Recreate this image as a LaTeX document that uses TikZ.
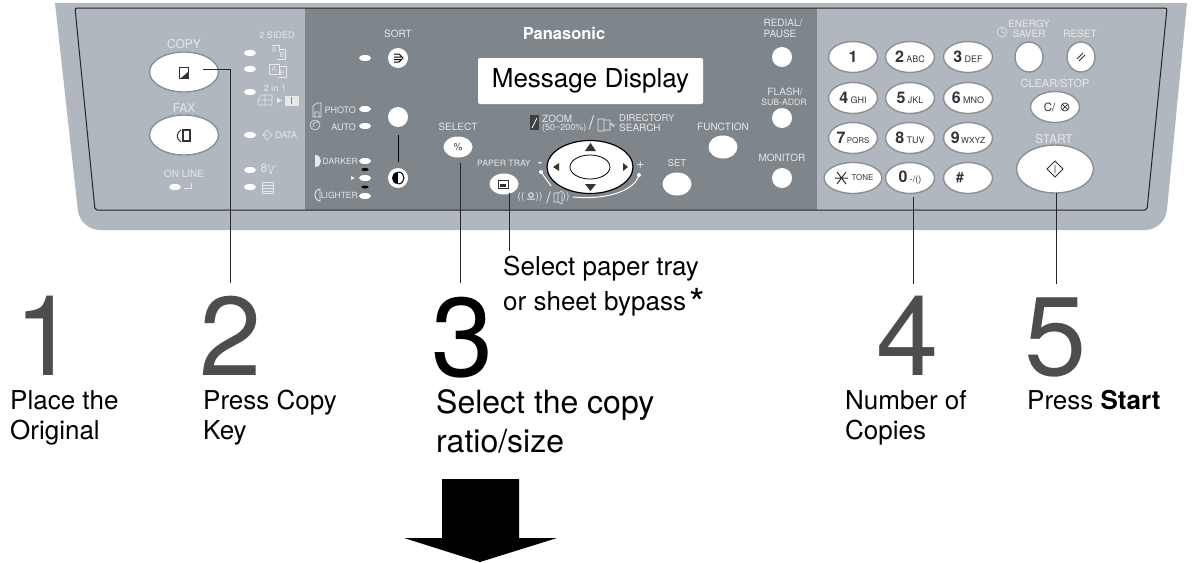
\documentclass[tikz,border=0pt]{standalone}
\usepackage{fontspec}
\setmainfont{TeX Gyre Heros}
\usetikzlibrary{shapes.geometric}
\definecolor{bodygray}{HTML}{B1B7BE}
\definecolor{centergray}{HTML}{7F868B}
\definecolor{ringgray}{HTML}{8A9096}
\definecolor{legendwhite}{HTML}{E6E8EA}
\definecolor{stepgray}{HTML}{4D4D4D}
\definecolor{keydark}{HTML}{333333}
\newcommand{\px}[1]{\fontsize{#1}{#1}\selectfont}
\newcommand{\keynum}[1]{\textbf{\px{16}#1}}
\begin{document}
\begin{tikzpicture}[x=1pt,y=-1pt]
      \tikzstyle{legend} = [text=legendwhite, inner sep=0pt, align=center]
      \tikzstyle{led} = [ellipse, fill=white, inner sep=0pt, minimum width=12pt, minimum height=6pt]
      \tikzstyle{blackled} = [ellipse, fill=black, inner sep=0pt, minimum width=7pt, minimum height=3pt]
      \tikzstyle{flatbtn} = [ellipse, fill=white, inner sep=0pt, text=keydark]
      \tikzstyle{ringbtn} = [ellipse, fill=white, draw=ringgray, line width=1.4pt, inner sep=0pt, text=keydark]
      \tikzstyle{keybtn} = [ringbtn, minimum width=49pt, minimum height=31pt, font=\px{9}]
      \tikzstyle{stepnum} = [inner sep=0pt, font=\px{112}, text=stepgray]
      \tikzstyle{steptext} = [inner sep=0pt, align=left, font=\px{26}, text=black]
      \tikzstyle{lead} = [line width=1pt, draw=black!85]
      \tikzstyle{icon} = [draw=legendwhite, line width=0.6pt]
      \useasboundingbox (0,0) rectangle (1193,562);
      \fill[white] (0,0) rectangle (1193,562);

      % machine body
      \fill[bodygray] (55,3) -- (1187,3) [rounded corners=20pt] -- (1165,230) -- (80,230) [sharp corners] -- cycle;
      \fill[centergray] (305,8) rectangle (817,210);
      \draw[black!85, line width=1pt, rounded corners=2pt] (75,8) -- (1167,8) -- (1147,210) -- (95,210) -- cycle;

      % left part
      \node[legend, font=\px{12}] (copytxt) at (184,44) {COPY};
      \node[ringbtn, minimum width=69pt, minimum height=40pt] (copybtn) at (184,72) {};
      \node[legend, font=\px{12}] (faxtxt) at (184,108) {FAX};
      \node[ringbtn, minimum width=69pt, minimum height=40pt] (faxbtn) at (184,135) {};
      \node[legend, font=\px{10}] (onlinetxt) at (184,174) {ON LINE};
      \node[led] (onlineled) at (175,187) {};
      \draw[icon, line width=0.9pt] (191,183) -- (191,188) -- (184,188);
      \draw[keydark, line width=1pt, fill=white] (179,67) rectangle (188,78);
      \fill[keydark] (188,72) -- (188,78) -- (181,78) -- cycle;
      \draw[keydark, line width=1.2pt, fill=white] (183,130) rectangle (190,141);
      \draw[keydark, line width=1pt] (181,130) .. controls (176,133) and (176,139) .. (181,142);

      \node[legend, font=\px{9}] (sidedtxt) at (277,35) {2 SIDED};
      \node[led] (ledone) at (250,53) {};
      \node[led] (ledtwo) at (250,69) {};
      \node[led] (ledthree) at (250,92) {};
      \node[legend, font=\px{9}] (twoinone) at (275,88) {2 in 1};
      \node[led] (leddata) at (250,135) {};
      \node[legend, font=\px{9}, anchor=west] (datatxt) at (275,135) {DATA};
      \node[led] (ledmemo) at (250,170) {};
      \node[led] (ledstack) at (250,187) {};
      \node[legend, font=\px{7}] (sidea) at (274,50) {A};
      \node[legend, font=\px{7}] (sideb) at (282,55) {B};
      \draw[icon] (272,45) -- (279,45) -- (279,52) (277,59) -- (285,59) -- (285,49) -- (280,49);
      \node[legend, font=\px{7}] (sidec) at (274,69) {A};
      \node[legend, font=\px{7}] (sided) at (282,73) {B};
      \draw[icon] (269,64) rectangle (279,74) (279,66) -- (286,66) -- (286,77) -- (278,77);
      \draw[icon] (258,99) -- (262,95) -- (272,95) -- (272,105) -- (258,105) -- cycle (265,95) -- (265,105) (258,100) -- (272,100);
      \fill[legendwhite] (277,98) -- (282,100.5) -- (277,103) -- cycle;
      \draw[icon, fill=legendwhite] (285,96) rectangle (298,105);
      \draw[centergray, line width=0.7pt] (291.5,97) -- (291.5,104);
      \draw[icon] (262,135) -- (267,135) (267,130) -- (272,135) -- (267,140) -- (263,135) -- cycle;
      \node[legend, font=\px{12}] (eightmark) at (264,168) {8};
      \draw[icon] (268,164) -- (271,174) -- (273,166) -- (276,166);
      \draw[icon] (262,182) rectangle (273,193) (262,185) -- (273,185) (262,188) -- (273,188) (262,191) -- (273,191);

      % center part
      \node[legend, font=\px{10}] (sorttxt) at (398,34) {SORT};
      \node[led] (ledsort) at (365,58) {};
      \node[flatbtn, minimum size=20pt] (sortbtn) at (398,58) {};
      \draw[black, line width=1pt] (394,54) -- (399,54) -- (403,58) -- (399,62) -- (394,62) (394,57) -- (401,57) (394,59.5) -- (401,59.5);
      \node[legend, font=\px{9}, anchor=east] (phototxt) at (356,110) {PHOTO};
      \node[led] (ledphoto) at (365,109) {};
      \node[legend, font=\px{9}, anchor=east] (autotxt) at (356,127) {AUTO};
      \node[led] (ledauto) at (365,126) {};
      \draw[icon] (313,106) -- (317,103) -- (321,103) -- (321,117) -- (313,117) -- cycle (315,117) -- (315,112) -- (319,112) -- (319,117);
      \draw[icon] (315,125) circle (5pt) (313,127) .. controls (313,122) and (316,121) .. (318,122);
      \node[flatbtn, minimum size=20pt] (densebtn) at (398,117) {};
      \node[flatbtn, minimum size=20pt] (contrastbtn) at (398,178) {};
      \draw[black, line width=1pt] (densebtn) ++(0,18) -- ++(0,27);
      \draw[black, line width=1pt] (398,172) .. controls (406,172) and (406,184) .. (398,184);
      \fill[black] (398,172) .. controls (390,172) and (390,184) .. (398,184) -- cycle;
      \node[legend, font=\px{8.5}, anchor=east] (darktxt) at (358,161) {DARKER};
      \node[led] (leddark) at (365,161) {};
      \node[blackled] (dotone) at (365,169.5) {};
      \node[led] (ledmid) at (365,178) {};
      \node[blackled] (dottwo) at (365,187) {};
      \node[led] (ledlight) at (365,196) {};
      \node[legend, font=\px{8.5}, anchor=east] (lighttxt) at (358,195) {LIGHTER};
      \fill[legendwhite] (315,155) .. controls (323,155) and (323,167) .. (315,167) -- cycle;
      \fill[legendwhite] (351,176) -- (355,178) -- (351,180) -- cycle;
      \draw[icon, line width=0.9pt] (320,189) .. controls (313,190) and (313,200) .. (320,201) -- cycle;
      \node[legend, font=\px{10}] (selecttxt) at (458,127) {SELECT};
      \node[flatbtn, minimum width=29pt, minimum height=21pt, font=\px{10}] (selectbtn) at (458,147) {\%};
      \node[legend, font=\px{8.7}] (traytxt) at (504,163) {PAPER TRAY};
      \node[flatbtn, minimum width=29pt, minimum height=21pt] (traybtn) at (504,184) {};
      \draw[keydark, line width=1pt] (498,180) rectangle (508,188);
      \fill[keydark] (500,184) rectangle (506,186.5);

      \node[font=\bfseries\px{16.5}, text=white, inner sep=0pt] (brand) at (564,33) {Panasonic};
      \node[fill=white, rounded corners=2pt, minimum width=225pt, minimum height=46pt, inner sep=0pt, font=\px{26}] (display) at (590.5,81) {Message Display};

      \fill[black!75] (530,115) rectangle (539,130);
      \draw[white, line width=0.7pt] (532,128) -- (537,118);
      \node[legend, font=\px{10}, anchor=west] (zoomtxt) at (542,119) {ZOOM};
      \node[legend, font=\px{9}, anchor=west] (zoomrange) at (542,128.5) {(50\textasciitilde200\%)};
      \node[legend, font=\px{19}] (slash) at (591.5,123) {/};
      \draw[icon] (598,119) rectangle (604,131) (604,120) -- (610,120) -- (610,130) -- (604,130) (610,125) -- (615,125) (611,123) -- (614,127);
      \node[legend, font=\px{9.5}, anchor=west] (dirtxt) at (619,118) {DIRECTORY};
      \node[legend, font=\px{10}, anchor=west] (searchtxt) at (619,128) {SEARCH};

      \node[ellipse, fill=white, draw=black, line width=1.2pt, minimum width=86pt, minimum height=53pt, inner sep=0pt] (navbtn) at (590,167) {};
      \node[ellipse, draw=black, line width=0.8pt, minimum width=40pt, minimum height=24pt, inner sep=0pt] (navcore) at (590,167) {};
      \fill[keydark] (590.5,143) -- (596,151) -- (585,151) -- cycle;
      \fill[keydark] (590.5,191) -- (596,184) -- (585,184) -- cycle;
      \fill[keydark] (553,167) -- (559,163) -- (559,171) -- cycle;
      \fill[keydark] (628,167) -- (623,163) -- (623,171) -- cycle;
      \node[legend, font=\bfseries\px{12}] (minus) at (540,164) {-};
      \node[legend, font=\px{14}] (plus) at (640.5,165) {+};
      \draw[white, line width=1pt] (541,172) -- (551,186);
      \fill[white] (541,172) circle (2pt);
      \draw[white, line width=1pt] (639,175) .. controls (634,192) and (604,200) .. (573,197);
      \fill[white] (639,175) circle (2pt);
      \node[legend, font=\px{10}] (volone) at (521,197) {((};
      \draw[icon, line width=1pt] (527,199) -- (535,199) (531,195) circle (2.3pt);
      \node[legend, font=\px{10}] (voltwo) at (539,197) {))};
      \node[legend, font=\px{16}] (volslash) at (548.5,198) {/};
      \draw[icon] (554,193) rectangle (558,202) (558,193) -- (562,191) -- (562,204) -- (558,202);
      \node[legend, font=\px{10}] (volthree) at (566,197) {))};

      \node[legend, font=\px{10}] (functxt) at (723,127) {FUNCTION};
      \node[flatbtn, minimum width=29pt, minimum height=23pt] (funcbtn) at (723,147) {};
      \node[legend, font=\px{9.5}] (settxt) at (677,163) {SET};
      \node[flatbtn, minimum width=29pt, minimum height=23pt] (setbtn) at (677,184) {};
      \node[legend, font=\px{10}] (redialtxt) at (783,23) {REDIAL/};
      \node[legend, font=\px{10}] (pausetxt) at (780,34) {PAUSE};
      \node[flatbtn, minimum size=20pt] (redialbtn) at (782,57) {};
      \node[legend, font=\px{10}] (flashtxt) at (785,92) {FLASH/};
      \node[legend, font=\px{8.7}] (subtxt) at (784,102.5) {SUB-ADDR};
      \node[flatbtn, minimum size=20pt] (flashbtn) at (782,118) {};
      \node[legend, font=\px{10}] (monitortxt) at (782,158) {MONITOR};
      \node[flatbtn, minimum size=20pt] (monitorbtn) at (782,178) {};

      % keypad
      \node[keybtn] (keyone) at (853,57) {\keynum{1}};
      \node[keybtn] (keytwo) at (910,57) {\keynum{2} ABC};
      \node[keybtn] (keythree) at (968,57) {\keynum{3} DEF};
      \node[keybtn] (keyfour) at (853,98) {\keynum{4} GHI};
      \node[keybtn] (keyfive) at (910,98) {\keynum{5} JKL};
      \node[keybtn] (keysix) at (968,98) {\keynum{6} MNO};
      \node[keybtn, font=\px{8}] (keyseven) at (853,138) {\keynum{7}\,PQRS};
      \node[keybtn] (keyeight) at (910,138) {\keynum{8} TUV};
      \node[keybtn, font=\px{8.3}] (keynine) at (968,138) {\keynum{9}\,WXYZ};
      \node[keybtn, font=\px{8}] (keystar) at (853,178) {\hspace*{19pt}TONE};
      \node[keybtn] (keyzero) at (910,178) {\keynum{0} -/()};
      \node[keybtn] (keyhash) at (968,178) {};
      \draw[keydark, line width=1pt] (835,178) -- (848,178) (837,172) -- (846,184) (846,172) -- (837,184);
      \node[inner sep=0pt, text=keydark, font=\bfseries\px{14}] (hashmark) at (960,178) {\#};

      \node[legend, font=\px{10}] (energytxt) at (1029,24) {ENERGY};
      \node[legend, font=\px{10}] (savertxt) at (1029,34) {SAVER};
      \draw[icon] (1002,32) circle (5pt) (1002,28) -- (1002,32) -- (1005,33);
      \node[legend, font=\px{10}] (resettxt) at (1080,34) {RESET};
      \node[ringbtn, minimum width=28pt, minimum height=30pt] (energybtn) at (1029,57) {};
      \node[ringbtn, minimum width=28pt, minimum height=30pt] (resetbtn) at (1081,57) {};
      \draw[keydark, line width=0.8pt] (1077,59) -- (1083,53) (1079,61) -- (1085,55);
      \node[legend, font=\px{11}] (cleartxt) at (1055,83) {CLEAR/STOP};
      \node[ringbtn, minimum width=49pt, minimum height=31pt, font=\px{11.5}] (clearbtn) at (1055,107) {C/\hspace*{11pt}};
      \draw[keydark, line width=0.7pt] (1065,107) circle (4pt) (1062,104) -- (1068,110) (1068,104) -- (1062,110);
      \node[legend, font=\px{12}] (starttxt) at (1054,139) {START};
      \node[ringbtn, minimum width=77pt, minimum height=48pt] (startbtn) at (1055,169) {};
      \draw[keydark, line width=0.8pt] (1055,161) -- (1063,169) -- (1055,177) -- (1047,169) -- cycle (1055,165) -- (1055,173);

      % steps under the panel
      \node[stepnum, anchor=base] (stepone) at (46,375) {1};
      \node[stepnum, anchor=base] (steptwo) at (231,375) {2};
      \node[stepnum, anchor=base, text=black] (stepthree) at (463,376) {3};
      \node[stepnum, anchor=base] (stepfour) at (908,375) {4};
      \node[stepnum, anchor=base] (stepfive) at (1056,375) {5};
      \node[steptext, anchor=base west] (placetxt) at (10,439) {Place the\\[4pt]Original};
      \node[steptext, anchor=base west] (presstxt) at (203,439) {Press Copy\\[4pt]Key};
      \node[steptext, anchor=base west, font=\px{32}] (ratiotxt) at (436,452) {Select the copy\\[7pt]ratio/size};
      \node[steptext, anchor=base west] (numbertxt) at (845,439) {Number of\\[4pt]Copies};
      \node[steptext, anchor=base west] (starthint) at (1027,409) {Press \textbf{Start}};
      \node[steptext, anchor=base west] (traynote) at (503,310) {Select paper tray\\[6pt]or sheet bypass\kern3pt\raisebox{-7pt}{\px{40}*}};

      % leaders
      \coordinate (copytap) at (203,69);
      \coordinate (endtwo) at (230,283);
      \coordinate (selecttap) at (460,163);
      \coordinate (endthree) at (460,283);
      \coordinate (traytap) at (509,193);
      \coordinate (endtray) at (509,251);
      \coordinate (zerotap) at (913,197);
      \coordinate (endfour) at (913,284);
      \coordinate (starttap) at (1056,193);
      \coordinate (endfive) at (1056,284);
      \draw[lead] (copytap) -| (endtwo);
      \draw[lead] (selecttap) -- (endthree);
      \draw[lead] (traytap) -- (endtray);
      \draw[lead] (zerotap) -- (endfour);
      \draw[lead] (starttap) -- (endfive);

      % big arrow
      \fill[black] (442,479) -- (519,479) -- (519,538) -- (557,538) -- (480,562) -- (404,538) -- (442,538) -- cycle;
\end{tikzpicture}
\end{document}
